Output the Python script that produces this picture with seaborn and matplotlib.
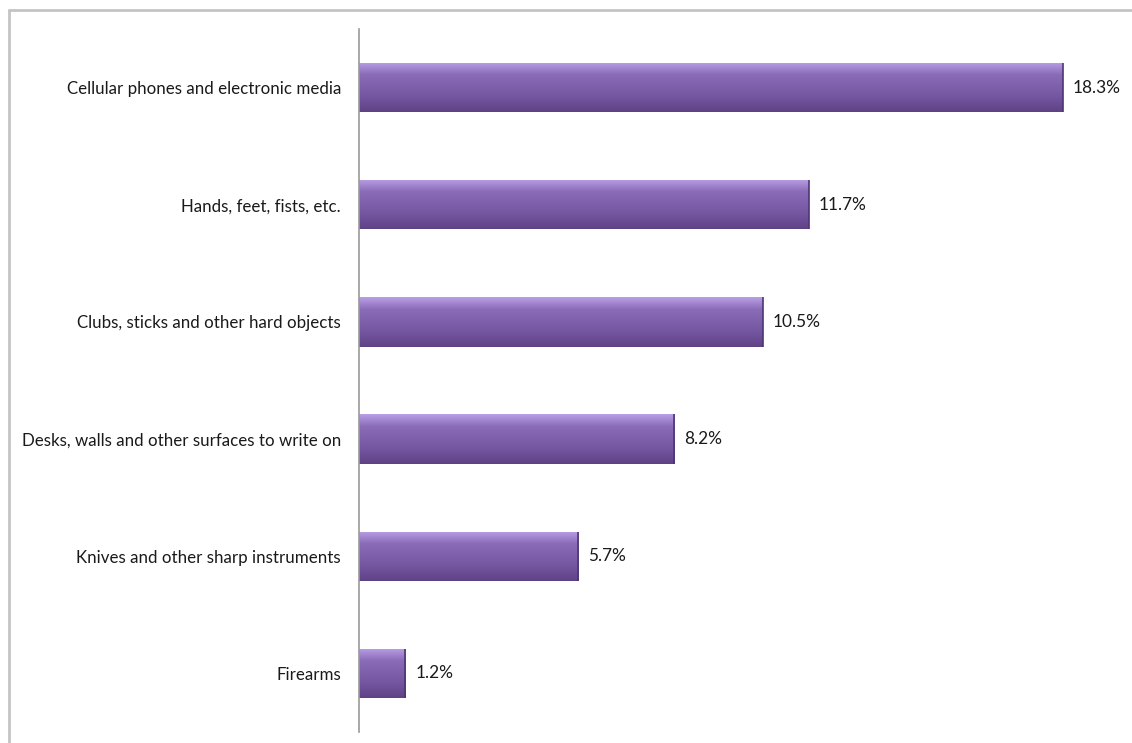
import numpy as np
import pandas as pd
import matplotlib
matplotlib.use("Agg")
import matplotlib.pyplot as plt
from matplotlib.lines import Line2D
from matplotlib.colors import LinearSegmentedColormap
import seaborn as sns

categories = [
    "Cellular phones and electronic media",
    "Hands, feet, fists, etc.",
    "Clubs, sticks and other hard objects",
    "Desks, walls and other surfaces to write on",
    "Knives and other sharp instruments",
    "Firearms",
]
values = [18.3, 11.7, 10.5, 8.2, 5.7, 1.2]
value_labels = ["18.3%", "11.7%", "10.5%", "8.2%", "5.7%", "1.2%"]

df = pd.DataFrame({"category": categories, "value": values})

sns.set_theme(style="white")
plt.rcParams["font.family"] = ["Lato", "DejaVu Sans"]

W, H = 1132, 743
fig = plt.figure(figsize=(W / 100, H / 100), dpi=100)
ax_left, ax_right = 359, 1128
ax_top, ax_bottom = 29, 732
ax = fig.add_axes([ax_left / W, 1 - ax_bottom / H,
                   (ax_right - ax_left) / W, (ax_bottom - ax_top) / H])

base = "#7a5ba6"
sns.barplot(data=df, x="value", y="category", orient="h", color=base,
            width=0.42, saturation=1, ax=ax, edgecolor="none")

ax.set_xlim(0, 20)
ax.set_ylim(5.5, -0.5)

# Vertical gradient with a light top bevel for each bar
grad_cmap = LinearSegmentedColormap.from_list(
    "bev", ["#b9a0e6", "#8a6bb8", "#7e5fab", "#71529c", "#5e4285"])
grad = np.linspace(0, 1, 256).reshape(-1, 1)
for patch in ax.patches:
    x0, y0 = patch.get_x(), patch.get_y()
    w, h = patch.get_width(), patch.get_height()
    im = ax.imshow(grad, cmap=grad_cmap, aspect="auto",
                   extent=[x0, x0 + w, y0 + h, y0], origin="upper",
                   interpolation="bicubic", zorder=patch.get_zorder() + 0.1)
    im.set_clip_path(patch)
    ax.plot([x0 + w, x0 + w], [y0, y0 + h], color="#4e3672", lw=1.2,
            zorder=patch.get_zorder() + 0.2, solid_capstyle="butt")

ax.set_xlim(0, 20)
ax.set_ylim(5.5, -0.5)

for i, (v, lab) in enumerate(zip(values, value_labels)):
    ax.text(v + 0.26, i, lab, va="center", ha="left", fontsize=12.4,
            color="#1a1a1a")

ax.set_xlabel("")
ax.set_ylabel("")
ax.set_xticks([])
ax.tick_params(axis="y", length=0, pad=13, labelsize=12.2, labelcolor="#1a1a1a")
for s in ["top", "right", "bottom"]:
    ax.spines[s].set_visible(False)
ax.spines["left"].set_color("#9a9a9a")
ax.spines["left"].set_linewidth(1.2)

# Outer frame (left and top edges)
fig.add_artist(Line2D([9 / W, 9 / W], [0, 1 - 10 / H], color="#c4c4c4",
                      lw=2, transform=fig.transFigure))
fig.add_artist(Line2D([9 / W, 1], [1 - 10 / H, 1 - 10 / H], color="#c4c4c4",
                      lw=2, transform=fig.transFigure))

fig.savefig("out.png", dpi=100, facecolor="white")
